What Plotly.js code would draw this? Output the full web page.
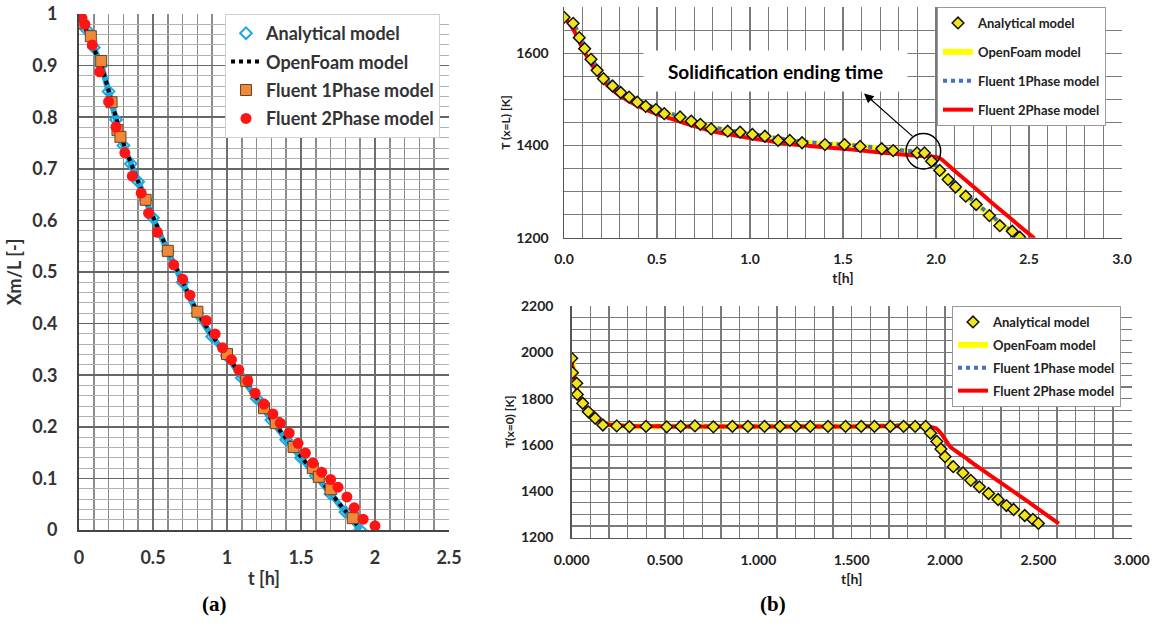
<!DOCTYPE html>
<html>
<head>
<meta charset="utf-8">
<script src="https://cdn.plot.ly/plotly-3.0.1.min.js"></script>
<style>html,body{margin:0;padding:0;background:#fff;}#chart{width:1157px;height:628px;}</style>
</head>
<body>
<div id="chart"></div>
<script>
// ---------- (a) Xm/L vs t ----------
const a_analytical_t = [0,0.05,0.1,0.15,0.2,0.25,0.3,0.35,0.4,0.45,0.5,0.6,0.7,0.8,0.9,1.0,1.1,1.2,1.3,1.4,1.5,1.6,1.7,1.8,1.9];
const a_analytical_x = [1,0.97,0.935,0.9,0.85,0.795,0.745,0.71,0.675,0.64,0.605,0.54,0.48,0.42,0.375,0.337,0.295,0.255,0.213,0.175,0.14,0.105,0.07,0.035,0];
const a_openfoam_t = [0,0.05,0.1,0.15,0.2,0.25,0.3,0.4,0.5,0.6,0.7,0.8,0.9,1.0,1.1,1.2,1.3,1.4,1.5,1.6,1.7,1.8,1.88];
const a_openfoam_x = [1,0.968,0.933,0.9,0.852,0.8,0.75,0.675,0.607,0.542,0.482,0.422,0.377,0.338,0.297,0.256,0.215,0.177,0.142,0.107,0.072,0.037,0.01];
const a_f1_t = [0,0.08,0.15,0.22,0.26,0.28,0.45,0.60,0.80,1.0,1.13,1.25,1.33,1.45,1.58,1.62,1.70,1.85];
const a_f1_x = [0.982,0.957,0.909,0.829,0.775,0.762,0.64,0.541,0.423,0.341,0.289,0.236,0.207,0.161,0.12,0.103,0.079,0.023];
const a_f2_t = [0.02,0.04,0.09,0.14,0.2,0.25,0.31,0.36,0.42,0.47,0.53,0.64,0.70,0.75,0.86,0.92,0.97,1.03,1.08,1.14,1.19,1.25,1.31,1.36,1.42,1.48,1.53,1.58,1.64,1.70,1.75,1.81,1.86,1.92,2.0];
const a_f2_x = [0.992,0.98,0.94,0.888,0.83,0.781,0.731,0.686,0.653,0.614,0.577,0.514,0.486,0.455,0.406,0.38,0.353,0.33,0.31,0.289,0.265,0.244,0.225,0.207,0.188,0.168,0.149,0.13,0.112,0.098,0.083,0.064,0.043,0.021,0.008];

// ---------- (b) top: T(x=L) vs t ----------
const bt_analytical_t = [0,0.049,0.082,0.111,0.145,0.178,0.212,0.261,0.305,0.35,0.394,0.439,0.494,0.539,0.624,0.684,0.733,0.791,0.88,0.947,1.013,1.08,1.151,1.214,1.28,1.403,1.508,1.592,1.708,1.77,1.898,1.938,1.976,2.02,2.065,2.105,2.16,2.216,2.287,2.343,2.41,2.45];
const bt_analytical_T = [1678,1665,1634,1610,1587,1563,1545,1529,1515,1505,1494,1485,1478,1469,1462,1453,1446,1436,1431,1429,1424,1420,1411,1411,1406,1402,1402,1398,1393,1389,1384,1384,1366,1346,1326,1310,1290,1272,1248,1226,1214,1201];
const bt_openfoam_t = [0,0.05,0.1,0.15,0.2,0.25,0.3,0.4,0.5,0.6,0.7,0.8,0.9,1.0,1.1,1.2,1.3,1.4,1.5,1.6,1.7,1.8,1.9,1.95,2.0,2.1,2.2,2.3,2.4,2.47];
const bt_openfoam_T = [1680,1660,1620,1583,1552,1532,1517,1494,1477,1464,1450,1438,1430,1424,1417,1411,1406,1403,1401,1398,1393,1389,1385,1380,1355,1312,1278,1245,1215,1200];
const bt_f1_t = [0,0.05,0.1,0.15,0.2,0.25,0.3,0.4,0.5,0.6,0.7,0.8,0.9,1.0,1.1,1.2,1.3,1.4,1.5,1.6,1.7,1.8,1.9,1.95,2.0,2.1,2.2,2.3,2.4,2.48];
const bt_f1_T = [1682,1665,1625,1588,1556,1535,1520,1497,1480,1466,1452,1440,1432,1426,1419,1413,1408,1404,1402,1399,1394,1390,1386,1381,1356,1314,1280,1247,1217,1200];
const bt_f2_t = [0,0.05,0.1,0.15,0.2,0.25,0.3,0.4,0.5,0.6,0.7,0.8,0.9,1.0,1.1,1.2,1.3,1.4,1.5,1.6,1.7,1.8,1.9,2.0,2.03,2.1,2.2,2.3,2.4,2.53];
const bt_f2_T = [1680,1652,1610,1575,1545,1524,1508,1485,1468,1455,1442,1431,1423,1416,1410,1404,1400,1396,1393,1389,1385,1381,1378,1375,1370,1345,1311,1276,1242,1198];

// ---------- (b) bottom: T(x=0) vs t ----------
const bb_analytical_t = [0,0.004,0.027,0.03,0.059,0.089,0.126,0.167,0.241,0.309,0.398,0.509,0.584,0.66,0.759,0.861,0.944,1.033,1.116,1.2,1.278,1.373,1.467,1.551,1.622,1.707,1.778,1.84,1.896,1.922,1.956,1.978,2.0,2.044,2.096,2.138,2.184,2.233,2.284,2.329,2.367,2.427,2.471,2.5];
const bb_analytical_T = [1974,1912,1866,1818,1780,1743,1715,1686,1682,1679,1680,1678,1680,1682,1678,1680,1680,1680,1680,1680,1680,1680,1680,1680,1680,1680,1680,1680,1680,1651,1615,1582,1549,1506,1479,1447,1419,1390,1364,1338,1321,1295,1278,1261];
const bb_openfoam_t = [0,0.02,0.05,0.1,0.15,0.2,0.3,0.5,1.0,1.5,1.88,1.92,1.96,2.0,2.05,2.1,2.2,2.3,2.4,2.5];
const bb_openfoam_T = [1975,1880,1795,1735,1700,1686,1680,1679,1679,1679,1679,1652,1610,1550,1505,1475,1410,1353,1305,1262];
const bb_f1_t = [0,0.02,0.05,0.1,0.15,0.2,0.3,0.5,1.0,1.5,1.88,1.92,1.96,2.0,2.05,2.1,2.2,2.3,2.4,2.5];
const bb_f1_T = [1970,1875,1792,1733,1700,1687,1681,1680,1680,1680,1680,1655,1615,1555,1512,1482,1418,1362,1313,1268];
const bb_f2_t = [0,0.01,0.03,0.06,0.1,0.15,0.2,0.3,0.5,1.0,1.5,1.9,1.95,1.98,2.0,2.03,2.1,2.15,2.2,2.3,2.4,2.5,2.61];
const bb_f2_T = [1960,1900,1830,1775,1735,1705,1688,1682,1680,1680,1680,1680,1672,1648,1625,1590,1550,1520,1492,1436,1380,1323,1260];

const names = ['Analytical model','OpenFoam model','Fluent 1Phase model','Fluent 2Phase model'];
const W = 1157, H = 628;
const px = v => v / W;
const py = v => 1 - v / H;
const FONT = 'Lato, "Open Sans", sans-serif';
const SPL = {shape:'spline', smoothing:0.6};

const traces = [
  // (a)
  {x:a_analytical_t, y:a_analytical_x, xaxis:'x', yaxis:'y', mode:'lines', line:Object.assign({color:'#1fa8dc', width:6}, SPL), showlegend:false, hoverinfo:'skip'},
  {x:a_analytical_t, y:a_analytical_x, xaxis:'x', yaxis:'y', mode:'markers', name:names[0], legend:'legend', legendgroup:'a0', legendrank:1,
   marker:{symbol:'diamond-open', size:9, color:'#1fa8dc', line:{width:2, color:'#1fa8dc'}}},
  {x:a_openfoam_t, y:a_openfoam_x, xaxis:'x', yaxis:'y', mode:'lines', name:names[1], legend:'legend', legendgroup:'a1', legendrank:2,
   line:Object.assign({color:'#000', width:4, dash:'dot'}, SPL)},
  {x:a_f1_t, y:a_f1_x, xaxis:'x', yaxis:'y', mode:'markers', name:names[2], legend:'legend', legendgroup:'a2', legendrank:3,
   marker:{symbol:'square', size:11, color:'#f0883a', line:{width:1, color:'#6b4420'}}},
  {x:a_f2_t, y:a_f2_x, xaxis:'x', yaxis:'y', mode:'markers', name:names[3], legend:'legend', legendgroup:'a3', legendrank:4,
   marker:{symbol:'circle', size:11, color:'#ff1414'}},
  // (b) top
  {x:bt_openfoam_t, y:bt_openfoam_T, xaxis:'x2', yaxis:'y2', mode:'lines', name:names[1], legend:'legend2', legendgroup:'b1', legendrank:2,
   line:Object.assign({color:'#ffff00', width:6}, SPL)},
  {x:bt_f1_t, y:bt_f1_T, xaxis:'x2', yaxis:'y2', mode:'lines', name:names[2], legend:'legend2', legendgroup:'b2', legendrank:3,
   line:Object.assign({color:'#4472c4', width:4, dash:'dot'}, SPL)},
  {x:bt_f2_t, y:bt_f2_T, xaxis:'x2', yaxis:'y2', mode:'lines', name:names[3], legend:'legend2', legendgroup:'b3', legendrank:4,
   line:Object.assign({color:'#ff0000', width:4}, SPL)},
  {x:bt_analytical_t, y:bt_analytical_T, xaxis:'x2', yaxis:'y2', mode:'markers', name:names[0], legend:'legend2', legendgroup:'b0', legendrank:1,
   marker:{symbol:'diamond', size:9, color:'#f2e41c', line:{width:1.5, color:'#111'}}},
  // (b) bottom
  {x:bb_openfoam_t, y:bb_openfoam_T, xaxis:'x3', yaxis:'y3', mode:'lines', name:names[1], legend:'legend3', legendgroup:'c1', legendrank:2,
   line:Object.assign({color:'#ffff00', width:6}, SPL)},
  {x:bb_f1_t, y:bb_f1_T, xaxis:'x3', yaxis:'y3', mode:'lines', name:names[2], legend:'legend3', legendgroup:'c2', legendrank:3,
   line:Object.assign({color:'#4472c4', width:4, dash:'dot'}, SPL)},
  {x:bb_f2_t, y:bb_f2_T, xaxis:'x3', yaxis:'y3', mode:'lines', name:names[3], legend:'legend3', legendgroup:'c3', legendrank:4,
   line:Object.assign({color:'#ff0000', width:4}, SPL)},
  {x:bb_analytical_t, y:bb_analytical_T, xaxis:'x3', yaxis:'y3', mode:'markers', name:names[0], legend:'legend3', legendgroup:'c0', legendrank:1,
   marker:{symbol:'diamond', size:9, color:'#f2e41c', line:{width:1.5, color:'#111'}}}
];

const tickA = {family:FONT, size:18, weight:'bold', color:'#333'};
const tickB = {family:FONT, size:14, weight:'bold', color:'#222'};

const layout = {
  width: W, height: H,
  margin:{l:0, r:0, t:0, b:0},
  paper_bgcolor:'#fff', plot_bgcolor:'#fff',
  showlegend:true,
  xaxis:{domain:[px(79), px(449)], anchor:'y', range:[0,2.5], tick0:0, dtick:0.5, ticks:'',
    showgrid:true, gridcolor:'#6e6e6e', gridwidth:1.5,
    minor:{dtick:0.1, showgrid:true, gridcolor:'#8c8c8c', gridwidth:1.5},
    zeroline:false, showline:true, linecolor:'#444', linewidth:2,
    tickfont:tickA, ticklabelstandoff:10,
    title:{text:'t [h]', font:tickA, standoff:6}},
  yaxis:{domain:[py(530), py(14)], anchor:'x', range:[0,1], tick0:0, dtick:0.1, ticks:'',
    showgrid:true, gridcolor:'#666', gridwidth:1.5,
    minor:{dtick:0.02, showgrid:true, gridcolor:'#b0b0b0', gridwidth:1},
    zeroline:false, showline:true, linecolor:'#444', linewidth:2,
    tickfont:tickA, ticklabelstandoff:16,
    title:{text:'Xm/L [-]', font:tickA, standoff:6}},
  xaxis2:{domain:[px(564), px(1122)], anchor:'y2', range:[0,3], tick0:0, dtick:0.5, tickformat:'.1f', ticks:'',
    showgrid:true, gridcolor:'#7a7a7a', gridwidth:1.2,
    minor:{dtick:0.1, showgrid:true, gridcolor:'#7a7a7a', gridwidth:1.2},
    zeroline:false, showline:true, linecolor:'#555', linewidth:1.5,
    tickfont:tickB, ticklabelstandoff:8,
    title:{text:'t[h]', font:tickB, standoff:7}},
  yaxis2:{domain:[py(237.7), py(7.2)], anchor:'x2', range:[1200,1700], tick0:1200, dtick:200, ticks:'',
    showgrid:true, gridcolor:'#7a7a7a', gridwidth:1.2,
    minor:{dtick:50, showgrid:true, gridcolor:'#7a7a7a', gridwidth:1.2},
    zeroline:false, showline:true, linecolor:'#555', linewidth:1.5,
    tickfont:tickB, ticklabelstandoff:11,
    title:{text:'T (x=L) [K]', font:{family:FONT, size:12, weight:'bold', color:'#222'}, standoff:3}},
  xaxis3:{domain:[px(571.7), px(1131.7)], anchor:'y3', range:[0,3], tick0:0, dtick:0.5, tickformat:'.3f', ticks:'',
    showgrid:true, gridcolor:'#7a7a7a', gridwidth:1.2,
    minor:{dtick:0.1, showgrid:true, gridcolor:'#7a7a7a', gridwidth:1.2},
    zeroline:false, showline:true, linecolor:'#555', linewidth:1.5,
    tickfont:tickB, ticklabelstandoff:9,
    title:{text:'t[h]', font:tickB, standoff:7}},
  yaxis3:{domain:[py(537.5), py(306)], anchor:'x3', range:[1200,2200], tick0:1200, dtick:200, ticks:'',
    showgrid:true, gridcolor:'#7a7a7a', gridwidth:1.2,
    minor:{dtick:50, showgrid:true, gridcolor:'#7a7a7a', gridwidth:1.2},
    zeroline:false, showline:true, linecolor:'#555', linewidth:1.5,
    tickfont:tickB, ticklabelstandoff:14,
    title:{text:'T(x=0) [K]', font:{family:FONT, size:12, weight:'bold', color:'#222'}, standoff:3}},
  legend:{x:px(225), y:py(14), xanchor:'left', yanchor:'top', bgcolor:'#fff', bordercolor:'#cfcfcf', borderwidth:1,
    font:{family:FONT, size:18, weight:'bold', color:'#333'}, traceorder:'grouped', tracegroupgap:2, itemsizing:'trace'},
  legend2:{x:px(937), y:py(7), xanchor:'left', yanchor:'top', bgcolor:'#fff', bordercolor:'#999', borderwidth:1,
    font:{family:FONT, size:13, weight:'bold', color:'#222'}, traceorder:'grouped', tracegroupgap:9, itemsizing:'trace'},
  legend3:{x:px(952), y:py(306), xanchor:'left', yanchor:'top', bgcolor:'#fff', bordercolor:'#999', borderwidth:1,
    font:{family:FONT, size:13, weight:'bold', color:'#222'}, traceorder:'grouped', tracegroupgap:3, itemsizing:'trace'},
  shapes:[
    {type:'circle', xref:'x2', yref:'y2', x0:1.839, x1:2.025, y0:1349, y1:1426, line:{color:'#000', width:1.5}}
  ],
  annotations:[
    {xref:'paper', yref:'paper', x:px(775), y:py(71), xanchor:'center', yanchor:'middle',
     text:'Solidification ending time', showarrow:false, bgcolor:'#fff', width:261, height:38,
     font:{family:FONT, size:19, weight:'bold', color:'#000'}},
    {xref:'x2', yref:'y2', x:1.613, y:1513, axref:'x2', ayref:'y2', ax:1.882, ay:1417, text:'',
     showarrow:true, arrowhead:2, arrowsize:1.6, arrowwidth:1.2, arrowcolor:'#000'},
    {xref:'paper', yref:'paper', x:px(215), y:py(604), xanchor:'center', yanchor:'middle', showarrow:false,
     text:'(a)', font:{family:'"Liberation Serif", serif', size:21, weight:'bold', color:'#000'}},
    {xref:'paper', yref:'paper', x:px(773), y:py(604), xanchor:'center', yanchor:'middle', showarrow:false,
     text:'(b)', font:{family:'"Liberation Serif", serif', size:21, weight:'bold', color:'#000'}}
  ]
};

Plotly.newPlot('chart', traces, layout, {staticPlot:true, displayModeBar:false});
</script>
</body>
</html>
